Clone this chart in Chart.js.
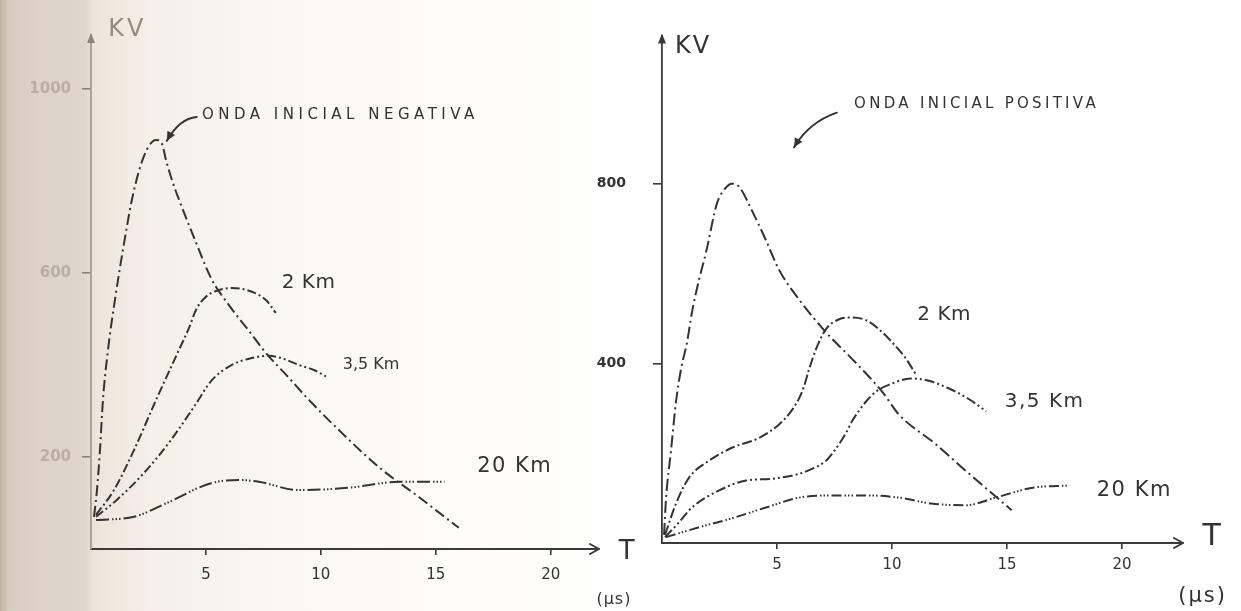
<!DOCTYPE html>
<html>
<head>
<meta charset="utf-8">
<script src="https://cdn.jsdelivr.net/npm/chart.js@4.4.1/dist/chart.umd.min.js"></script>
<style>
  html, body { margin: 0; padding: 0; width: 1241px; height: 611px; overflow: hidden; }
  body {
    background: linear-gradient(to right,
      #c2b5a8 0px, #d6ccc2 9px, #dcd3ca 40px, #ded6cd 84px,
      #ede5dc 94px, #f5efe8 150px, #fbf7f1 280px, #fefcf9 450px, #ffffff 620px);
  }
  canvas { position: absolute; top: 0; }
  #left { left: 0; }
  #right { left: 580px; }
</style>
</head>
<body>
<canvas id="left" width="640" height="611"></canvas>
<canvas id="right" width="661" height="611"></canvas>
<script>
// Time in microseconds, voltage in kV.

// ---- Onda inicial negativa (left panel) ----
const negInitialT  = [0.13, 0.26, 0.39, 0.52, 0.74, 1.04, 1.39, 1.78, 2.17, 2.52, 2.83, 3.09, 3.26, 3.52, 3.83, 4.52, 5.26, 6.0, 6.87, 7.61, 8.61, 9.48, 11.0, 12.52, 14.26, 16.0];
const negInitialKV = [70, 128, 215, 324, 433, 541, 650, 759, 835, 876, 889, 880, 846, 802, 759, 672, 585, 530, 474, 426, 372, 324, 248, 178, 113, 46];

const neg2kmT  = [0.22, 1.0, 1.87, 2.83, 3.83, 4.26, 4.57, 5.0, 5.57, 6.13, 7.0, 7.61, 8.04];
const neg2kmKV = [74, 128, 215, 324, 433, 480, 520, 548, 563, 567, 559, 541, 513];

const neg35kmT  = [0.22, 1.13, 2.3, 3.48, 4.48, 5.26, 6.13, 7.0, 7.74, 8.39, 9.04, 9.7, 10.26];
const neg35kmKV = [70, 107, 165, 237, 309, 367, 400, 415, 420, 413, 400, 389, 374];

const neg20kmT  = [0.22, 1.87, 3.3, 5.22, 6.43, 7.3, 9.04, 11.2, 13.4, 15.4];
const neg20kmKV = [63, 70, 100, 143, 150, 146, 128, 133, 146, 146];

// ---- Onda inicial positiva (right panel) ----
const posInitialT  = [0.09, 0.17, 0.39, 0.61, 0.83, 1.09, 1.3, 1.61, 1.91, 2.39, 2.74, 3.04, 3.35, 3.91, 4.52, 5.09, 5.96, 7.13, 8.26, 9.57, 10.3, 11.9, 13.2, 15.2];
const posInitialKV = [18, 95, 205, 315, 388, 447, 513, 586, 646, 756, 789, 800, 793, 740, 674, 608, 542, 469, 410, 337, 286, 220, 161, 73];

const pos2kmT  = [0.13, 0.61, 1.17, 2.04, 3.04, 4.22, 5.09, 5.61, 5.96, 6.17, 6.39, 6.7, 7.13, 7.7, 8.26, 8.87, 9.43, 10.0, 10.61, 11.04];
const pos2kmKV = [18, 88, 145, 183, 212, 234, 264, 293, 322, 348, 386, 432, 476, 498, 502, 496, 476, 447, 410, 375];

const pos35kmT  = [0.13, 0.74, 1.3, 2.48, 3.65, 4.78, 5.96, 6.52, 7.13, 7.43, 7.7, 8.0, 8.26, 8.57, 8.87, 9.3, 10.0, 10.52, 10.96, 11.6, 12.48, 13.35, 14.1];
const pos35kmKV = [13, 46, 79, 117, 139, 143, 154, 165, 183, 201, 220, 245, 271, 295, 315, 337, 355, 364, 366, 361, 344, 320, 293];

const pos20kmT  = [0.17, 1.61, 3.04, 4.52, 5.96, 7.39, 8.87, 10.3, 11.7, 13.2, 14.5, 16.1, 17.7];
const pos20kmKV = [13, 35, 55, 79, 101, 106, 106, 101, 88, 84, 101, 123, 128];

// ---- Tick labels ----
const timeTicks      = [5, 10, 15, 20];
const leftVoltTicks  = [200, 600, 1000];
const rightVoltTicks = [400, 800];

const INK = '#333333';
const HAND = '"DejaVu Sans", "Liberation Sans", sans-serif';

function series(t, kv, dash) {
  return {
    data: t.map((v, i) => ({ x: v, y: kv[i] })),
    borderColor: INK,
    borderWidth: 2,
    borderDash: dash,
    pointRadius: 0,
    showLine: true,
    fill: false,
    cubicInterpolationMode: 'monotone'
  };
}

// Draws axis arrowheads, the "KV" / "T (μs)" captions and curve labels.
const annotate = {
  id: 'annotate',
  afterDraw(chart, args, o) {
    const { ctx, chartArea: a, scales: { x, y } } = chart;
    const px = v => x.getPixelForValue(v);
    const py = v => y.getPixelForValue(v);
    ctx.save();
    ctx.lineCap = 'round';
    ctx.lineJoin = 'round';

    // x-axis arrowhead
    ctx.strokeStyle = o.xAxisColor;
    ctx.lineWidth = 2;
    ctx.beginPath();
    ctx.moveTo(a.right - 9, a.bottom - 5);
    ctx.lineTo(a.right, a.bottom);
    ctx.lineTo(a.right - 9, a.bottom + 5);
    ctx.stroke();

    // y-axis arrowhead
    ctx.fillStyle = o.yAxisColor;
    ctx.beginPath();
    ctx.moveTo(a.left, a.top - 2);
    ctx.lineTo(a.left - 4, a.top + 8);
    ctx.lineTo(a.left + 4, a.top + 8);
    ctx.closePath();
    ctx.fill();

    // curved pointer from the caption to the initial wave
    const p = o.pointer;
    const sx = px(p.from[0]), sy = py(p.from[1]);
    const cx = px(p.ctrl[0]), cy = py(p.ctrl[1]);
    const ex = px(p.to[0]), ey = py(p.to[1]);
    ctx.strokeStyle = INK;
    ctx.lineWidth = 2;
    ctx.beginPath();
    ctx.moveTo(sx, sy);
    ctx.quadraticCurveTo(cx, cy, ex, ey);
    ctx.stroke();
    const ang = Math.atan2(ey - cy, ex - cx);
    ctx.fillStyle = INK;
    ctx.beginPath();
    ctx.moveTo(ex, ey);
    ctx.lineTo(ex - 10 * Math.cos(ang - 0.45), ey - 10 * Math.sin(ang - 0.45));
    ctx.lineTo(ex - 10 * Math.cos(ang + 0.45), ey - 10 * Math.sin(ang + 0.45));
    ctx.closePath();
    ctx.fill();

    // texts
    ctx.textBaseline = 'middle';
    for (const t of o.texts) {
      ctx.font = t.font;
      ctx.fillStyle = t.color || INK;
      ctx.letterSpacing = t.spacing || '0px';
      ctx.textAlign = t.align || 'left';
      ctx.fillText(t.text, px(t.at[0]), py(t.at[1]));
    }
    ctx.restore();
  }
};

function makeChart(id, cfg) {
  return new Chart(document.getElementById(id), {
    type: 'scatter',
    data: { datasets: cfg.datasets },
    options: {
      responsive: false,
      animation: false,
      events: [],
      layout: { padding: { top: cfg.top, right: cfg.right, left: 0, bottom: 0 } },
      plugins: {
        legend: { display: false },
        tooltip: { enabled: false },
        annotate: cfg.annotate
      },
      scales: {
        x: {
          type: 'linear',
          min: 0,
          max: cfg.xMax,
          afterBuildTicks: s => { s.ticks = timeTicks.map(v => ({ value: v })); },
          afterFit: s => { s.height = cfg.xAxisHeight; },
          border: { display: true, color: cfg.xAxisColor, width: 2 },
          grid: { display: true, drawOnChartArea: false, drawTicks: true, tickLength: 6, color: cfg.xAxisColor, lineWidth: 1.6 },
          ticks: {
            padding: cfg.xTickPad,
            color: INK,
            font: { family: HAND, size: 15 },
            maxRotation: 0,
            autoSkip: false,
            callback: v => String(v)
          }
        },
        y: {
          type: 'linear',
          min: 0,
          max: cfg.yMax,
          afterBuildTicks: s => { s.ticks = cfg.yTicks.map(v => ({ value: v })); },
          afterFit: s => { s.width = cfg.yAxisWidth; },
          border: { display: true, color: cfg.yAxisColor, width: 1.8 },
          grid: { display: true, drawOnChartArea: false, drawTicks: true, tickLength: 9, color: cfg.yTickColor, lineWidth: 1.6 },
          ticks: {
            padding: cfg.yTickPad,
            color: cfg.yLabelColor,
            font: { family: HAND, size: cfg.yLabelSize, weight: cfg.yLabelWeight },
            autoSkip: false,
            callback: v => String(v)
          }
        }
      }
    },
    plugins: [annotate]
  });
}

makeChart('left', {
  datasets: [
    series(negInitialT, negInitialKV, [11, 4, 2, 4]),
    series(neg2kmT, neg2kmKV, [9, 3, 2, 3]),
    series(neg35kmT, neg35kmKV, [9, 3, 2, 3, 2, 3]),
    series(neg20kmT, neg20kmKV, [13, 3, 1.5, 2, 1.5, 2, 1.5, 3])
  ],
  top: 35, right: 41, xAxisHeight: 62, yAxisWidth: 91,
  xMax: 22.1, yMax: 1117,
  xAxisColor: '#3a3a3a', yAxisColor: '#a49b92', yTickColor: '#8d847b',
  xTickPad: 11, yTickPad: 11,
  yTicks: leftVoltTicks, yLabelColor: '#b9aea4', yLabelSize: 15, yLabelWeight: 'bold',
  annotate: {
    xAxisColor: '#3a3a3a', yAxisColor: '#8d847b',
    pointer: { from: [4.6, 939], ctrl: [3.85, 936], to: [3.3, 887] },
    texts: [
      { text: 'KV', at: [0.75, 1128], font: `24px ${HAND}`, color: '#948b83', spacing: '3px' },
      { text: 'ONDA INICIAL NEGATIVA', at: [4.83, 943], font: `15px ${HAND}`, spacing: '4.5px' },
      { text: '2 Km', at: [8.3, 578], font: `20px ${HAND}`, spacing: '0.5px' },
      { text: '3,5 Km', at: [10.95, 400], font: `16px ${HAND}` },
      { text: '20 Km', at: [16.8, 180], font: `21px ${HAND}`, spacing: '1.5px' },
      { text: 'T', at: [23.3, -6], font: `26px ${HAND}`, align: 'center' },
      { text: '(μs)', at: [22.75, -110], font: `16px ${HAND}`, align: 'center', spacing: '1px' }
    ]
  }
});

makeChart('right', {
  datasets: [
    series(posInitialT, posInitialKV, [12, 4, 2, 4]),
    series(pos2kmT, pos2kmKV, [10, 3, 2, 3]),
    series(pos35kmT, pos35kmKV, [10, 3, 2, 3, 2, 3]),
    series(pos20kmT, pos20kmKV, [10, 3, 1.5, 2, 1.5, 2, 1.5, 3])
  ],
  top: 30, right: 58, xAxisHeight: 68, yAxisWidth: 82,
  xMax: 22.65, yMax: 1130,
  xAxisColor: '#3a3a3a', yAxisColor: '#3a3a3a', yTickColor: '#3a3a3a',
  xTickPad: 7, yTickPad: 27,
  yTicks: rightVoltTicks, yLabelColor: INK, yLabelSize: 14, yLabelWeight: 'bold',
  annotate: {
    xAxisColor: '#3a3a3a', yAxisColor: '#3a3a3a',
    pointer: { from: [7.6, 958], ctrl: [6.4, 937], to: [5.74, 881] },
    texts: [
      { text: 'KV', at: [0.57, 1104], font: `24px ${HAND}`, spacing: '2px' },
      { text: 'ONDA INICIAL POSITIVA', at: [8.35, 976], font: `15px ${HAND}`, spacing: '3.3px' },
      { text: '2 Km', at: [11.1, 509], font: `20px ${HAND}`, spacing: '0.5px' },
      { text: '3,5 Km', at: [14.9, 315], font: `20px ${HAND}`, spacing: '1.5px' },
      { text: '20 Km', at: [18.9, 117], font: `21px ${HAND}`, spacing: '1.5px' },
      { text: 'T', at: [23.9, 13], font: `30px ${HAND}`, align: 'center' },
      { text: '(μs)', at: [23.5, -119], font: `21px ${HAND}`, align: 'center', spacing: '2px' }
    ]
  }
});
</script>
</body>
</html>
